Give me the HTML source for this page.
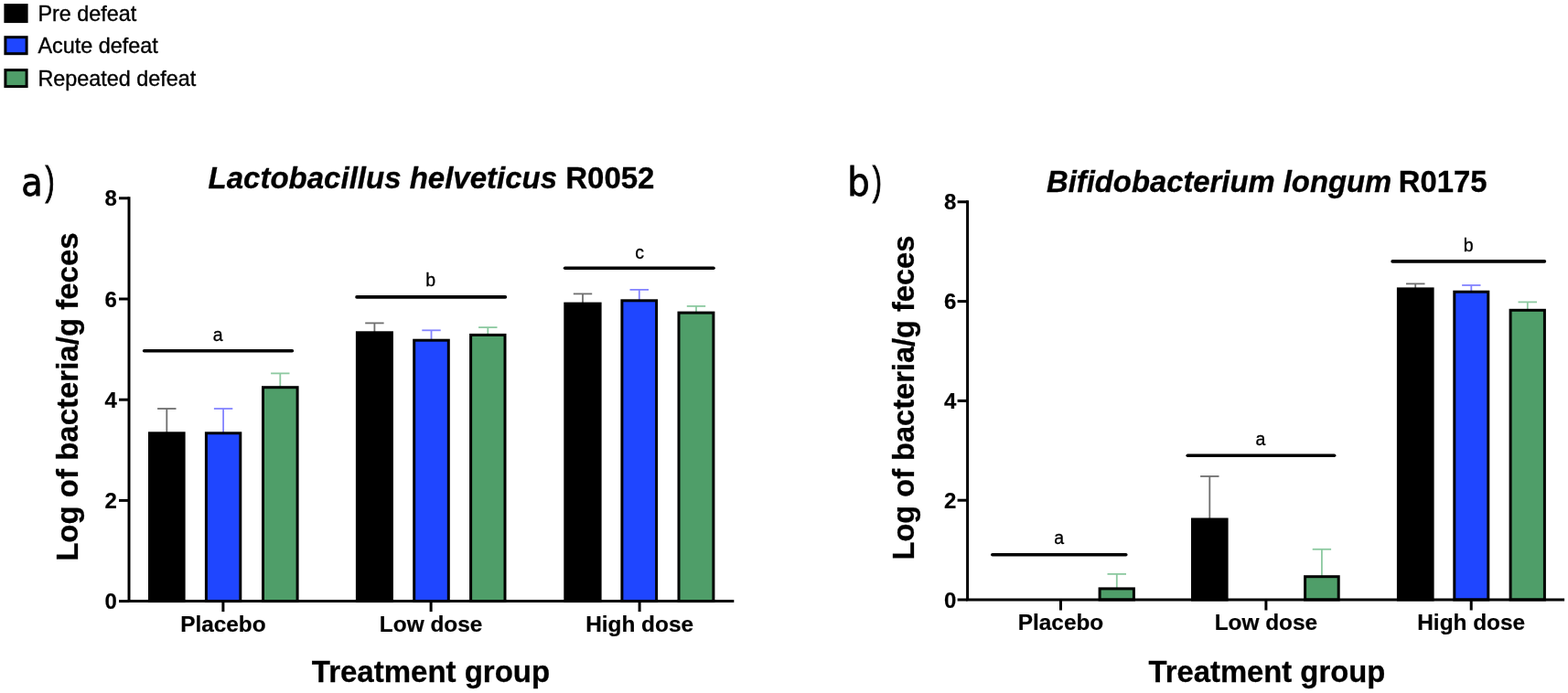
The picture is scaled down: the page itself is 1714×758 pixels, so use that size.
<!DOCTYPE html>
<html><head><meta charset="utf-8"><title>Bacteria chart</title>
<style>html,body{margin:0;padding:0;background:#fff;width:1714px;height:758px;overflow:hidden}svg{display:block}</style>
</head><body>
<svg width="1714" height="758" viewBox="0 0 1714 758">
<style>
text{font-family:"Liberation Sans",Arial,sans-serif;fill:#000}
.lg{font-size:23.4px;stroke:#000;stroke-width:0.35px}
.tk{font-size:24px;font-weight:bold;stroke:#000;stroke-width:0.2px}
.cat{font-size:24.4px;font-weight:bold;stroke:#000;stroke-width:0.2px}
.ttl{font-size:33px;font-weight:bold;stroke:#000;stroke-width:0.3px}
.yl{font-size:33px;font-weight:bold;stroke:#000;stroke-width:0.3px}
.xl{font-size:33px;font-weight:bold;stroke:#000;stroke-width:0.3px}
.sg{font-size:19.5px;stroke:#000;stroke-width:0.3px}
.pl{font-size:46px}
</style>
<rect width="1714" height="758" fill="#fff"/>
<rect x="5.9" y="5.6" width="23.2" height="18" fill="#000" stroke="#000" stroke-width="3"/>
<text x="41.4" y="22.6" class="lg">Pre defeat</text>
<rect x="5.9" y="40.7" width="23.2" height="18" fill="#1f46ff" stroke="#000" stroke-width="3"/>
<text x="41.4" y="58.4" class="lg">Acute defeat</text>
<rect x="5.9" y="76.6" width="23.2" height="18" fill="#4f9e69" stroke="#000" stroke-width="3"/>
<text x="41.4" y="94.3" class="lg">Repeated defeat</text>
<text x="0" y="0" transform="translate(23.2 213.9) scale(0.9 1)" style="font-family:'DejaVu Sans';font-size:42.5px" stroke="#000" stroke-width="0.8">a</text>
<text x="0" y="0" transform="translate(49.6 213.0) scale(0.68 1)" style="font-family:'Liberation Sans';font-size:45px" stroke="#000" stroke-width="1.0">)</text>
<text x="0" y="0" transform="translate(926.2 213.9) scale(0.9 1)" style="font-family:'DejaVu Sans';font-size:43px" stroke="#000" stroke-width="0.8">b</text>
<text x="0" y="0" transform="translate(953.8 213.0) scale(0.68 1)" style="font-family:'Liberation Sans';font-size:45px" stroke="#000" stroke-width="1.0">)</text>
<text x="227.6" y="205.6" class="ttl"><tspan font-style="italic">Lactobacillus helveticus</tspan> R0052</text>
<text x="1144" y="209.7" class="ttl" style="font-size:32.8px"><tspan font-style="italic">Bifidobacterium longum</tspan><tspan dx="-1.5"> R0175</tspan></text>
<text class="yl" transform="translate(85 613.8) rotate(-90)">Log of bacteria/g feces</text>
<text class="yl" style="font-size:32.6px" transform="translate(998.6 612.5) rotate(-90)">Log of bacteria/g feces</text>
<text x="471" y="745.7" text-anchor="middle" class="xl">Treatment group</text>
<text x="1384.9" y="746" text-anchor="middle" class="xl" style="font-size:32.8px">Treatment group</text>
<line x1="182.3" y1="473.3" x2="182.3" y2="447.0" stroke="#6f6f6f" stroke-width="1.8"/>
<line x1="172.1" y1="447.0" x2="192.5" y2="447.0" stroke="#6f6f6f" stroke-width="1.8"/>
<rect x="163.5" y="473.8" width="37.6" height="183.8" fill="#000" stroke="#000" stroke-width="3"/>
<line x1="244.1" y1="473.3" x2="244.1" y2="447.0" stroke="#8484ff" stroke-width="1.8"/>
<line x1="233.9" y1="447.0" x2="254.3" y2="447.0" stroke="#8484ff" stroke-width="1.8"/>
<rect x="225.4" y="473.8" width="37.4" height="183.8" fill="#1f46ff" stroke="#000" stroke-width="3"/>
<line x1="306.3" y1="423.2" x2="306.3" y2="408.4" stroke="#8cc9a0" stroke-width="1.8"/>
<line x1="296.1" y1="408.4" x2="316.5" y2="408.4" stroke="#8cc9a0" stroke-width="1.8"/>
<rect x="287.5" y="423.7" width="37.6" height="233.9" fill="#4f9e69" stroke="#000" stroke-width="3"/>
<line x1="409.4" y1="363.3" x2="409.4" y2="353.4" stroke="#6f6f6f" stroke-width="1.8"/>
<line x1="399.2" y1="353.4" x2="419.6" y2="353.4" stroke="#6f6f6f" stroke-width="1.8"/>
<rect x="390.4" y="363.8" width="38.0" height="293.8" fill="#000" stroke="#000" stroke-width="3"/>
<line x1="471.5" y1="371.7" x2="471.5" y2="361.3" stroke="#8484ff" stroke-width="1.8"/>
<line x1="461.3" y1="361.3" x2="481.7" y2="361.3" stroke="#8484ff" stroke-width="1.8"/>
<rect x="452.7" y="372.2" width="37.6" height="285.4" fill="#1f46ff" stroke="#000" stroke-width="3"/>
<line x1="533.3" y1="365.9" x2="533.3" y2="358.1" stroke="#8cc9a0" stroke-width="1.8"/>
<line x1="523.1" y1="358.1" x2="543.5" y2="358.1" stroke="#8cc9a0" stroke-width="1.8"/>
<rect x="514.6" y="366.4" width="37.4" height="291.2" fill="#4f9e69" stroke="#000" stroke-width="3"/>
<line x1="637.0" y1="331.6" x2="637.0" y2="321.4" stroke="#6f6f6f" stroke-width="1.8"/>
<line x1="626.8" y1="321.4" x2="647.2" y2="321.4" stroke="#6f6f6f" stroke-width="1.8"/>
<rect x="617.8" y="332.1" width="38.3" height="325.5" fill="#000" stroke="#000" stroke-width="3"/>
<line x1="698.8" y1="328.3" x2="698.8" y2="316.9" stroke="#8484ff" stroke-width="1.8"/>
<line x1="688.5" y1="316.9" x2="709.0" y2="316.9" stroke="#8484ff" stroke-width="1.8"/>
<rect x="679.9" y="328.8" width="37.7" height="328.8" fill="#1f46ff" stroke="#000" stroke-width="3"/>
<line x1="761.0" y1="341.6" x2="761.0" y2="334.9" stroke="#8cc9a0" stroke-width="1.8"/>
<line x1="750.8" y1="334.9" x2="771.2" y2="334.9" stroke="#8cc9a0" stroke-width="1.8"/>
<rect x="742.0" y="342.1" width="37.9" height="315.5" fill="#4f9e69" stroke="#000" stroke-width="3"/>
<line x1="1220.8" y1="643.4" x2="1220.8" y2="627.9" stroke="#8cc9a0" stroke-width="1.8"/>
<line x1="1210.5" y1="627.9" x2="1231.0" y2="627.9" stroke="#8cc9a0" stroke-width="1.8"/>
<rect x="1202.1" y="643.9" width="37.3" height="12.1" fill="#4f9e69" stroke="#000" stroke-width="3"/>
<line x1="1322.3" y1="567.5" x2="1322.3" y2="521.0" stroke="#6f6f6f" stroke-width="1.8"/>
<line x1="1312.1" y1="521.0" x2="1332.5" y2="521.0" stroke="#6f6f6f" stroke-width="1.8"/>
<rect x="1303.5" y="568.0" width="37.6" height="88.0" fill="#000" stroke="#000" stroke-width="3"/>
<line x1="1444.9" y1="630.2" x2="1444.9" y2="600.8" stroke="#8cc9a0" stroke-width="1.8"/>
<line x1="1434.7" y1="600.8" x2="1455.1" y2="600.8" stroke="#8cc9a0" stroke-width="1.8"/>
<rect x="1426.6" y="630.7" width="36.6" height="25.3" fill="#4f9e69" stroke="#000" stroke-width="3"/>
<line x1="1547.2" y1="315.4" x2="1547.2" y2="310.4" stroke="#6f6f6f" stroke-width="1.8"/>
<line x1="1537.0" y1="310.4" x2="1557.5" y2="310.4" stroke="#6f6f6f" stroke-width="1.8"/>
<rect x="1528.4" y="315.9" width="37.7" height="340.1" fill="#000" stroke="#000" stroke-width="3"/>
<line x1="1608.3" y1="318.7" x2="1608.3" y2="312.0" stroke="#8484ff" stroke-width="1.8"/>
<line x1="1598.1" y1="312.0" x2="1618.5" y2="312.0" stroke="#8484ff" stroke-width="1.8"/>
<rect x="1589.8" y="319.2" width="37.0" height="336.8" fill="#1f46ff" stroke="#000" stroke-width="3"/>
<line x1="1669.8" y1="338.8" x2="1669.8" y2="330.4" stroke="#8cc9a0" stroke-width="1.8"/>
<line x1="1659.5" y1="330.4" x2="1680.0" y2="330.4" stroke="#8cc9a0" stroke-width="1.8"/>
<rect x="1651.1" y="339.3" width="37.3" height="316.7" fill="#4f9e69" stroke="#000" stroke-width="3"/>
<path d="M141.0,216.8 V657.6 H800.8" fill="none" stroke="#000" stroke-width="3" stroke-linejoin="miter" stroke-linecap="square"/>
<line x1="130.0" y1="657.6" x2="141.0" y2="657.6" stroke="#000" stroke-width="3"/>
<text x="127.8" y="666.2" text-anchor="end" class="tk">0</text>
<line x1="130.0" y1="547.4" x2="141.0" y2="547.4" stroke="#000" stroke-width="3"/>
<text x="127.8" y="556.0" text-anchor="end" class="tk">2</text>
<line x1="130.0" y1="437.2" x2="141.0" y2="437.2" stroke="#000" stroke-width="3"/>
<text x="127.8" y="445.8" text-anchor="end" class="tk">4</text>
<line x1="130.0" y1="327.0" x2="141.0" y2="327.0" stroke="#000" stroke-width="3"/>
<text x="127.8" y="335.6" text-anchor="end" class="tk">6</text>
<line x1="130.0" y1="216.8" x2="141.0" y2="216.8" stroke="#000" stroke-width="3"/>
<text x="127.8" y="225.4" text-anchor="end" class="tk">8</text>
<line x1="243.9" y1="657.6" x2="243.9" y2="669.1" stroke="#000" stroke-width="3"/>
<text x="243.9" y="690.6" text-anchor="middle" class="cat">Placebo</text>
<line x1="471.1" y1="657.6" x2="471.1" y2="669.1" stroke="#000" stroke-width="3"/>
<text x="471.1" y="690.6" text-anchor="middle" class="cat">Low dose</text>
<line x1="699.1" y1="657.6" x2="699.1" y2="669.1" stroke="#000" stroke-width="3"/>
<text x="699.1" y="690.6" text-anchor="middle" class="cat">High dose</text>
<path d="M1057.6,220.8 V656.0 H1708.6" fill="none" stroke="#000" stroke-width="3" stroke-linejoin="miter" stroke-linecap="square"/>
<line x1="1046.6" y1="656.0" x2="1057.6" y2="656.0" stroke="#000" stroke-width="3"/>
<text x="1045.3" y="664.6" text-anchor="end" class="tk">0</text>
<line x1="1046.6" y1="547.2" x2="1057.6" y2="547.2" stroke="#000" stroke-width="3"/>
<text x="1045.3" y="555.8" text-anchor="end" class="tk">2</text>
<line x1="1046.6" y1="438.4" x2="1057.6" y2="438.4" stroke="#000" stroke-width="3"/>
<text x="1045.3" y="447.0" text-anchor="end" class="tk">4</text>
<line x1="1046.6" y1="329.6" x2="1057.6" y2="329.6" stroke="#000" stroke-width="3"/>
<text x="1045.3" y="338.2" text-anchor="end" class="tk">6</text>
<line x1="1046.6" y1="220.8" x2="1057.6" y2="220.8" stroke="#000" stroke-width="3"/>
<text x="1045.3" y="229.4" text-anchor="end" class="tk">8</text>
<line x1="1159.5" y1="656.0" x2="1159.5" y2="667.5" stroke="#000" stroke-width="3"/>
<text x="1159.5" y="689.0" text-anchor="middle" class="cat">Placebo</text>
<line x1="1383.9" y1="656.0" x2="1383.9" y2="667.5" stroke="#000" stroke-width="3"/>
<text x="1383.9" y="689.0" text-anchor="middle" class="cat">Low dose</text>
<line x1="1608.2" y1="656.0" x2="1608.2" y2="667.5" stroke="#000" stroke-width="3"/>
<text x="1608.2" y="689.0" text-anchor="middle" class="cat">High dose</text>
<line x1="157.6" y1="383.8" x2="319.4" y2="383.8" stroke="#000" stroke-width="3.6" stroke-linecap="round"/>
<text x="238.3" y="372.5" text-anchor="middle" class="sg">a</text>
<line x1="390.0" y1="324.9" x2="552.4" y2="324.9" stroke="#000" stroke-width="3.6" stroke-linecap="round"/>
<text x="470.8" y="313.0" text-anchor="middle" class="sg">b</text>
<line x1="617.6" y1="293.2" x2="780.0" y2="293.2" stroke="#000" stroke-width="3.6" stroke-linecap="round"/>
<text x="699.0" y="282.7" text-anchor="middle" class="sg">c</text>
<line x1="1084.8" y1="606.8" x2="1230.8" y2="606.8" stroke="#000" stroke-width="3.6" stroke-linecap="round"/>
<text x="1157.7" y="595.3" text-anchor="middle" class="sg">a</text>
<line x1="1298.2" y1="498.2" x2="1458.6" y2="498.2" stroke="#000" stroke-width="3.6" stroke-linecap="round"/>
<text x="1377.9" y="486.8" text-anchor="middle" class="sg">a</text>
<line x1="1522.1" y1="285.9" x2="1688.4" y2="285.9" stroke="#000" stroke-width="3.6" stroke-linecap="round"/>
<text x="1605.1" y="274.6" text-anchor="middle" class="sg">b</text>
</svg>
</body></html>
